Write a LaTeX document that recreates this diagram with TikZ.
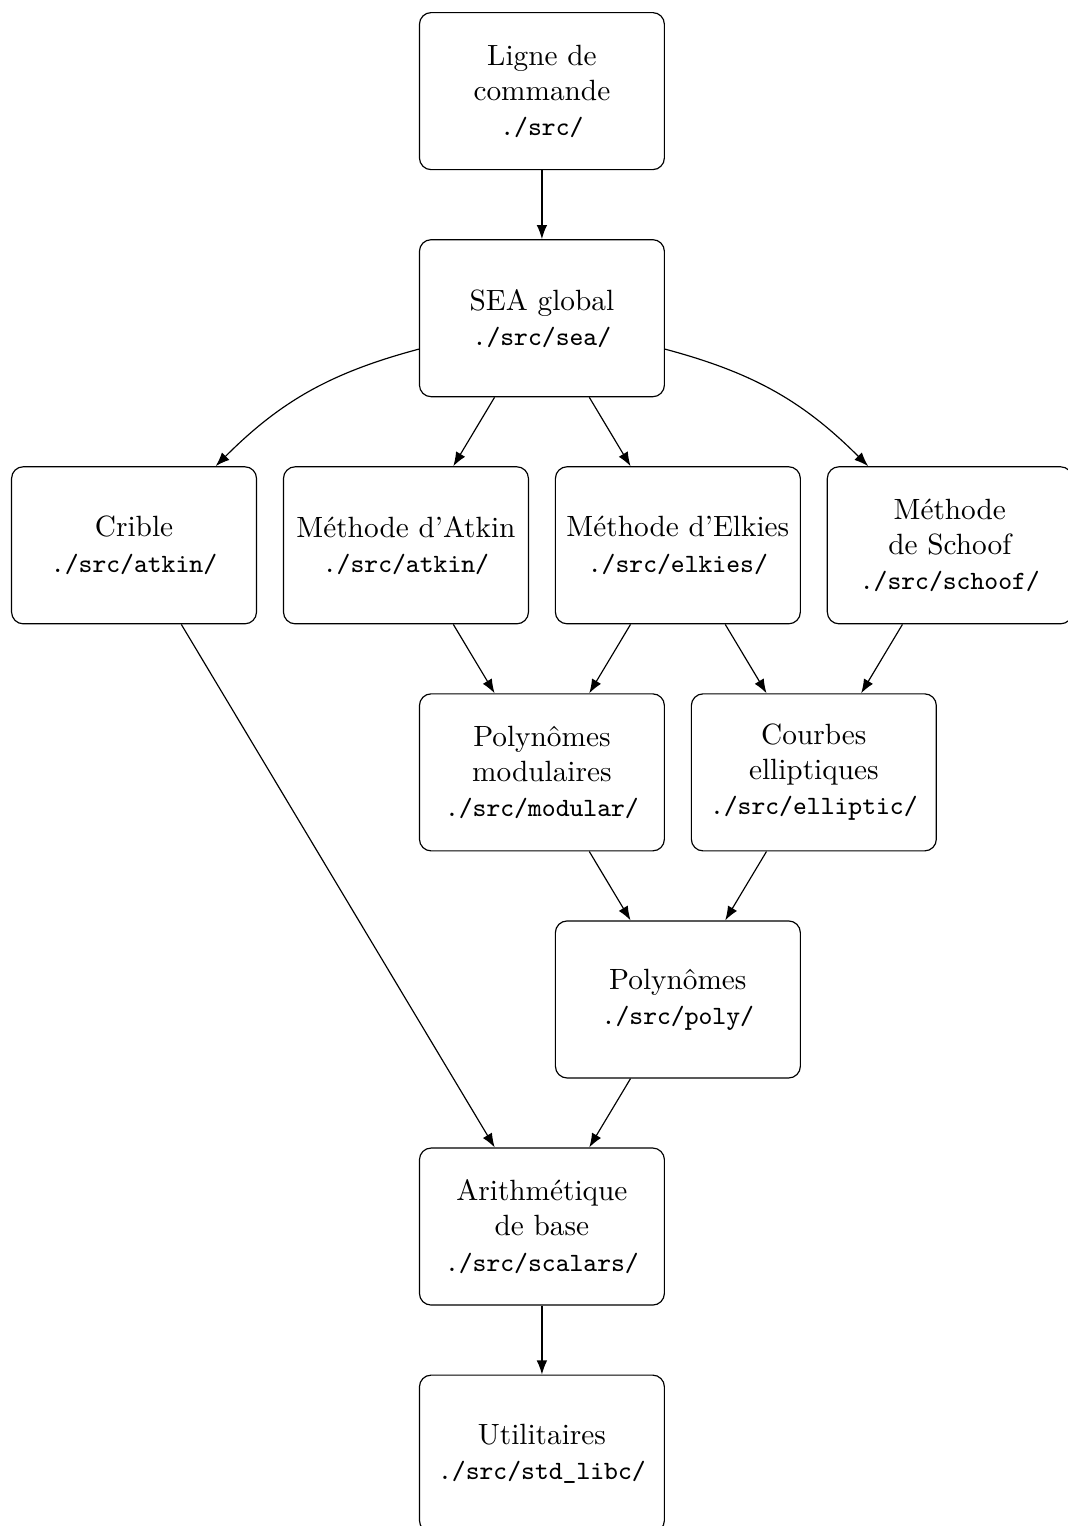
\documentclass[tikz,border=0pt]{standalone}
\usepackage{fontspec}
\usepackage{tikz}
\usetikzlibrary{arrows.meta,positioning}

\newcommand{\dir}[1]{{\small\texttt{#1}}}

\begin{document}
\begin{tikzpicture}[
  node distance=23.5pt and 8.8pt,
  box/.style={rectangle, draw, rounded corners, minimum width=83.6pt, minimum height=53.6pt, align=center},
  >=Latex
]
  \node[box] (cmd) {Ligne de\\commande\\\dir{./src/}};
  \node[box, below=of cmd] (sea) {SEA global\\\dir{./src/sea/}};

  \node[box, below left=23.5pt and -37.6pt of sea] (atkin) {Méthode d'Atkin\\\dir{./src/atkin/}};
  \node[box, left=of atkin] (crible) {Crible\\\dir{./src/atkin/}};
  \node[box, right=of atkin] (elkies) {Méthode d'Elkies\\\dir{./src/elkies/}};
  \node[box, right=of elkies] (schoof) {Méthode\\de Schoof\\\dir{./src/schoof/}};

  \node[box, below right=23.5pt and -37.6pt of atkin] (modular) {Polynômes\\modulaires\\\dir{./src/modular/}};
  \node[box, right=of modular] (elliptic) {Courbes\\elliptiques\\\dir{./src/elliptic/}};
  \node[box, below right=23.5pt and -37.6pt of modular] (poly) {Polynômes\\\dir{./src/poly/}};
  \node[box, below left=23.5pt and -37.6pt of poly] (scalars) {Arithmétique\\de base\\\dir{./src/scalars/}};
  \node[box, below=of scalars] (stdlibc) {Utilitaires\\\dir{./src/std\_libc/}};

  \draw[->] (cmd) -- (sea);
  \draw[->] (sea) to[bend right=15] (crible);
  \draw[->] (sea) -- (atkin);
  \draw[->] (sea) -- (elkies);
  \draw[->] (sea) to[bend left=15] (schoof);
  \draw[->] (crible) -- (scalars);
  \draw[->] (atkin) -- (modular);
  \draw[->] (elkies) -- (modular);
  \draw[->] (elkies) -- (elliptic);
  \draw[->] (schoof) -- (elliptic);
  \draw[->] (modular) -- (poly);
  \draw[->] (elliptic) -- (poly);
  \draw[->] (poly) -- (scalars);
  \draw[->] (scalars) -- (stdlibc);

  % cadre de la page
  \path (crible.west |- cmd.north) ++(-3.75pt,4.1pt) coordinate (tl);
  \pgfresetboundingbox
  \useasboundingbox (tl) rectangle ++(364.2pt,-520.8pt);
\end{tikzpicture}
\end{document}
